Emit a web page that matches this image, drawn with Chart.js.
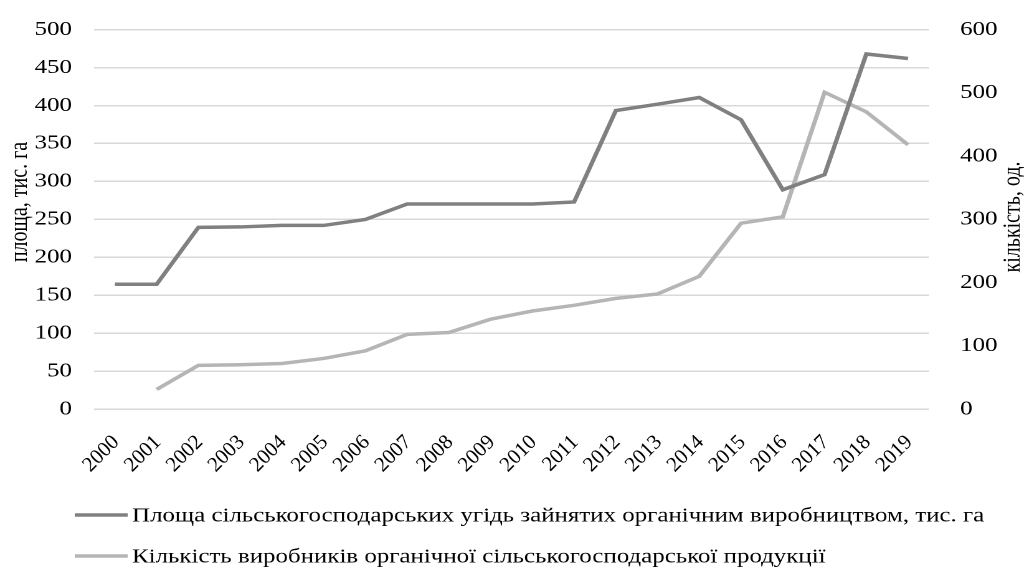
<!DOCTYPE html>
<html>
<head>
<meta charset="utf-8">
<script src="https://cdn.jsdelivr.net/npm/chart.js@4"></script>
<style>
  html, body { margin: 0; padding: 0; background: #fff; overflow: hidden; }
  /* the reference picture is stretched sideways, so the chart is drawn narrower and scaled */
  #wrap { position: relative; width: 822px; height: 570px; transform: scaleX(1.2457); transform-origin: 0 0; }
</style>
</head>
<body>
<div id="wrap"><canvas id="chart"></canvas></div>
<script>
// Data
const years = ['2000', '2001', '2002', '2003', '2004', '2005', '2006', '2007', '2008', '2009',
  '2010', '2011', '2012', '2013', '2014', '2015', '2016', '2017', '2018', '2019'];
const areaValues = [164.5, 164.5, 239.5, 240, 242, 242, 249.9, 270.2, 270.2, 270.3,
  270.3, 272.9, 393.4, 401.8, 410.6, 381.2, 289, 309, 468, 462];
const producerValues = [null, 31, 69, 70, 72, 80, 92, 118, 121, 142,
  155, 164, 175, 182, 210, 294, 304, 501, 470, 418];
const leftTicks = [0, 50, 100, 150, 200, 250, 300, 350, 400, 450, 500];
const rightTicks = [0, 100, 200, 300, 400, 500, 600];

const areaLabel = 'Площа сільськогосподарських угідь зайнятих органічним виробництвом, тис. га';
const producerLabel = 'Кількість виробників органічної сільськогосподарської продукції';
const leftTitle = 'площа, тис. га';
const rightTitle = 'кількість, од.';

const FONT = '"Liberation Serif", "Times New Roman", serif';
const STRETCH = 1.2457;

// Year labels (unstretched, 45deg), axis titles and legend drawn on the canvas
const extrasPlugin = {
  id: 'extras',
  afterDraw(chart) {
    const ctx = chart.ctx;
    const area = chart.chartArea;
    const xs = chart.scales.x;
    ctx.save();
    ctx.fillStyle = '#000';

    // x labels, using the category scale positions
    ctx.font = '21px ' + FONT;
    ctx.textAlign = 'right';
    ctx.textBaseline = 'middle';
    chart.data.labels.forEach((lab, i) => {
      ctx.save();
      ctx.translate(xs.getPixelForTick(i) + 1, area.bottom + 30);
      ctx.scale(1 / STRETCH, 1);
      ctx.rotate(-Math.PI / 4);
      ctx.fillText(lab, 0, 0);
      ctx.restore();
    });

    ctx.font = '20px ' + FONT;
    ctx.textAlign = 'center';
    [[16, 202, leftTitle], [813, 217, rightTitle]].forEach(([x, y, t]) => {
      ctx.save();
      ctx.translate(x, y);
      ctx.rotate(-Math.PI / 2);
      ctx.fillText(t, 0, 0);
      ctx.restore();
    });

    // legend
    ctx.textAlign = 'left';
    chart.data.datasets.forEach((ds, i) => {
      const y = 515 + i * 41;
      ctx.strokeStyle = ds.borderColor;
      ctx.lineWidth = 3.5;
      ctx.beginPath();
      ctx.moveTo(60, y);
      ctx.lineTo(102.5, y);
      ctx.stroke();
      ctx.fillText(ds.label, 106, y + 1);
    });
    ctx.restore();
  }
};

const ctx = document.getElementById('chart').getContext('2d');
new Chart(ctx, {
  type: 'line',
  data: {
    labels: years,
    datasets: [
      {
        label: areaLabel,
        data: areaValues,
        yAxisID: 'y',
        borderColor: '#808080',
        borderWidth: 3.5,
        pointRadius: 0,
        tension: 0,
        fill: false
      },
      {
        label: producerLabel,
        data: producerValues,
        yAxisID: 'y1',
        borderColor: '#b5b5b5',
        borderWidth: 3.5,
        pointRadius: 0,
        tension: 0,
        fill: false
      }
    ]
  },
  options: {
    responsive: true,
    maintainAspectRatio: false,
    animation: false,
    devicePixelRatio: 2,
    layout: {
      padding: { top: 24, bottom: 91, left: 0, right: 0 }
    },
    plugins: {
      legend: { display: false },
      tooltip: { enabled: false }
    },
    scales: {
      x: {
        offset: true,
        grid: { display: false },
        border: { display: false },
        ticks: { display: false },
        afterFit(scale) { scale.height = 70; }
      },
      y: {
        position: 'left',
        min: 0,
        max: 500,
        afterBuildTicks(scale) { scale.ticks = leftTicks.map(v => ({ value: v })); },
        grid: { color: '#d9d9d9', lineWidth: 1.5, drawTicks: false },
        border: { display: false },
        ticks: {
          color: '#000',
          font: { family: FONT, size: 20 },
          padding: 17.7
        },
        afterFit(scale) { scale.width = 75.5; }
      },
      y1: {
        position: 'right',
        min: 0,
        max: 600,
        afterBuildTicks(scale) { scale.ticks = rightTicks.map(v => ({ value: v })); },
        grid: { display: false, drawOnChartArea: false },
        border: { display: false },
        ticks: {
          color: '#000',
          font: { family: FONT, size: 20 },
          padding: 17
        },
        afterFit(scale) { scale.width = 76.3; }
      }
    }
  },
  plugins: [extrasPlugin]
});
</script>
</body>
</html>
